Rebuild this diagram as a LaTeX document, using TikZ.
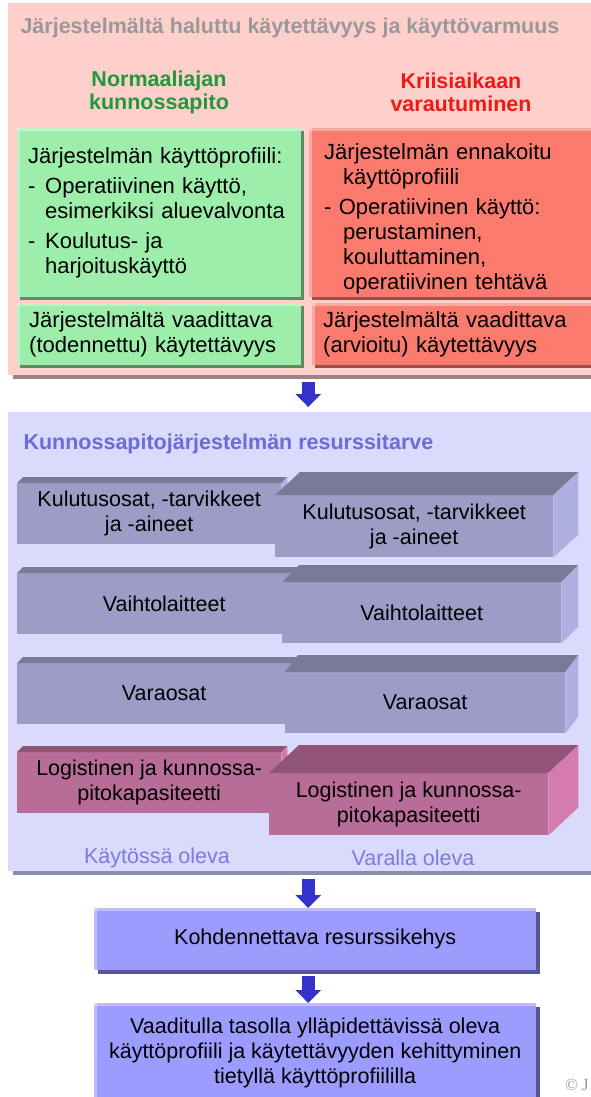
\documentclass[tikz,border=0pt]{standalone}
\usepackage{fontspec}
\setmainfont{Liberation Sans}
\newfontfamily\copyfont{Liberation Serif}
\usetikzlibrary{shadows,arrows.meta}

\definecolor{haluPink}{HTML}{FFCFCC}
\definecolor{haluShadow}{HTML}{A08282}
\definecolor{haluHead}{HTML}{999999}
\definecolor{normGreen}{HTML}{9CEEAA}
\definecolor{normShadow}{HTML}{5E8A66}
\definecolor{normHead}{HTML}{1F9A3B}
\definecolor{kriisiRed}{HTML}{FA7B6E}
\definecolor{kriisiShadow}{HTML}{9E5048}
\definecolor{kriisiHead}{HTML}{EE1B14}
\definecolor{resLav}{HTML}{DADAFC}
\definecolor{resShadow}{HTML}{8C8CAC}
\definecolor{resHead}{HTML}{6B6BDC}
\definecolor{resLabel}{HTML}{7B7BE0}
\definecolor{slabFront}{HTML}{9C9CC6}
\definecolor{slabTop}{HTML}{7A7A98}
\definecolor{slabSide}{HTML}{B0B0E0}
\definecolor{logiFront}{HTML}{B86C98}
\definecolor{logiTop}{HTML}{925476}
\definecolor{logiSide}{HTML}{D47CB0}
\definecolor{outBlue}{HTML}{9C9CFF}
\definecolor{outShadow}{HTML}{56569A}
\definecolor{arrowBlue}{HTML}{3333CC}

% top and right faces of a slab: node, depth x, depth y, colour prefix
\newcommand\slabfaces[4]{%
  \fill[#4Top] (#1.north west) -- ++(#2,-#3) -- ([shift={(#2,-#3)}]#1.north east) -- (#1.north east) -- cycle;
  \fill[#4Side] (#1.north east) -- ++(#2,-#3) -- ([shift={(#2,-#3)}]#1.south east) -- (#1.south east) -- cycle;
}

\tikzset{
  txt/.style={font=\fontsize{21.5}{25}\selectfont},
  cardtxt/.style={font=\fontsize{22}{25}\selectfont},
  head/.style={align=center, font=\fontsize{21.5}{23}\selectfont\bfseries},
  castshadow/.style={general shadow={fill=#1, shadow xshift=3pt, shadow yshift=-3pt}},
  bevel/.style={path picture={
    \fill[white, opacity=.35] (path picture bounding box.north west) rectangle ([yshift=-3pt]path picture bounding box.north east);
    \fill[white, opacity=.35] (path picture bounding box.north west) rectangle ([xshift=3pt]path picture bounding box.south west);}},
  panel/.style={anchor=north west, inner sep=0pt, minimum width=600pt, fill=#1},
  card/.style={anchor=north west, cardtxt, align=left, inner ysep=0pt, fill=#1, bevel},
  slab/.style={anchor=north west, txt, align=center, inner sep=0pt, minimum height=61pt, fill=#1},
  outbox/.style={anchor=north west, txt, align=center, inner sep=0pt, minimum width=442pt,
    fill=outBlue, bevel, general shadow={fill=outShadow, shadow xshift=4pt, shadow yshift=-4pt}},
  down/.style={draw=arrowBlue, line width=13pt, -{Triangle[width=25pt, length=13pt]}},
}

\begin{document}
\begin{tikzpicture}[x=1pt, y=-1pt]
  \useasboundingbox (0,0) rectangle (590,1097);

  % wanted availability
  \node[panel=haluPink, minimum height=372pt,
    general shadow={fill=haluShadow, shadow xshift=5pt, shadow yshift=-4pt}] (halu) at (8,3) {};
  \node[anchor=west, font=\fontsize{21.5}{25}\selectfont\bfseries, text=haluHead] (haluT) at (17,28)
    {Järjestelmältä haluttu käytettävyys ja käyttövarmuus};

  \node[head, text=normHead] (norm) at (159,92) {Normaaliajan\\kunnossapito};
  \node[head, text=kriisiHead] (kriisi) at (461,92) {Kriisiaikaan\\varautuminen};

  \node[card=normGreen, castshadow=normShadow, inner xsep=11pt, text width=262pt,
    minimum height=169pt] (normP) at (17,128)
    {Järjestelmän käyttöprofiili:\\[5pt]
     \makebox[17pt][l]{-}Operatiivinen käyttö,\\
     \hspace*{17pt}esimerkiksi aluevalvonta\\[5pt]
     \makebox[17pt][l]{-}Koulutus- ja\\
     \hspace*{17pt}harjoituskäyttö};
  \node[card=kriisiRed, castshadow=kriisiShadow, inner xsep=15pt, text width=270pt,
    minimum height=169pt] (kriisiP) at (309,128)
    {\rule{0pt}{28pt}Järjestelmän ennakoitu\\
     \hspace*{19pt}käyttöprofiili\\[5pt]
     - Operatiivinen käyttö:\\
     \hspace*{19pt}perustaminen,\\
     \hspace*{19pt}kouluttaminen,\\
     \hspace*{19pt}operatiivinen tehtävä};

  \node[card=normGreen, castshadow=normShadow, inner xsep=12pt, text width=260pt,
    minimum height=62pt] (normK) at (17,303)
    {Järjestelmältä vaadittava\\(todennettu) käytettävyys};
  \node[card=kriisiRed, castshadow=kriisiShadow, inner xsep=11pt, text width=278pt,
    minimum height=62pt] (kriisiK) at (312,303)
    {Järjestelmältä vaadittava\\(arvioitu) käytettävyys};

  % resource needs
  \node[panel=resLav, minimum height=459pt,
    general shadow={fill=resShadow, shadow xshift=5pt, shadow yshift=-4pt}] (res) at (8,412) {};
  \node[anchor=west, font=\fontsize{21.5}{25}\selectfont\bfseries, text=resHead] (resT) at (20,444)
    {Kunnossapitojärjestelmän resurssitarve};

  \node[slab=slabFront, minimum width=264pt] (kulA) at (17,483) {Kulutusosat, -tarvikkeet\\ja -aineet};
  \slabfaces{kulA}{6}{6}{slab}
  \node[slab=slabFront, minimum width=278pt, minimum height=62pt] (kulB) at (275,495) {Kulutusosat, -tarvikkeet\\ja -aineet};
  \slabfaces{kulB}{25}{23}{slab}

  \node[slab=slabFront, minimum width=294pt] (vaihtoA) at (17,573) {Vaihtolaitteet};
  \slabfaces{vaihtoA}{6}{6}{slab}
  \node[slab=slabFront, minimum width=279pt] (vaihtoB) at (282,582) {Vaihtolaitteet};
  \slabfaces{vaihtoB}{17}{17}{slab}

  \node[slab=slabFront, minimum width=294pt] (varaA) at (17,663) {Varaosat};
  \slabfaces{varaA}{6}{6}{slab}
  \node[slab=slabFront, minimum width=280pt] (varaB) at (285,672) {Varaosat};
  \slabfaces{varaB}{13}{17}{slab}

  \node[slab=logiFront, minimum width=264pt] (logiA) at (17,752) {Logistinen ja kunnossa-\\pitokapasiteetti};
  \slabfaces{logiA}{6}{6}{logi}
  \node[slab=logiFront, minimum width=279pt, minimum height=62pt] (logiB) at (269,773) {Logistinen ja kunnossa-\\pitokapasiteetti};
  \slabfaces{logiB}{30}{28}{logi}

  \node[txt, text=resLabel] (kaytossa) at (157,858) {Käytössä oleva};
  \node[txt, text=resLabel] (varalla) at (413,858) {Varalla oleva};

  % outcome
  \node[outbox, minimum height=62pt] (kehys) at (94,908) {Kohdennettava resurssikehys};
  \node[outbox, minimum height=100pt] (tulos) at (94,1003)
    {Vaaditulla tasolla ylläpidettävissä oleva\\käyttöprofiili ja käytettävyyden kehittyminen\\tietyllä käyttöprofiililla};

  \node[anchor=east, inner xsep=1pt, font=\copyfont\fontsize{17}{19}\selectfont, text=haluHead] (copy) at (590,1085) {© J};

  \draw[down, shorten <=7pt, shorten >=5pt] (halu.south) -- (res.north);
  \draw[down, shorten <=8pt] (res.south) -- (res.south |- kehys.north);
  \draw[down, shorten <=6pt] (res.south |- kehys.south) -- (res.south |- tulos.north);
\end{tikzpicture}
\end{document}
